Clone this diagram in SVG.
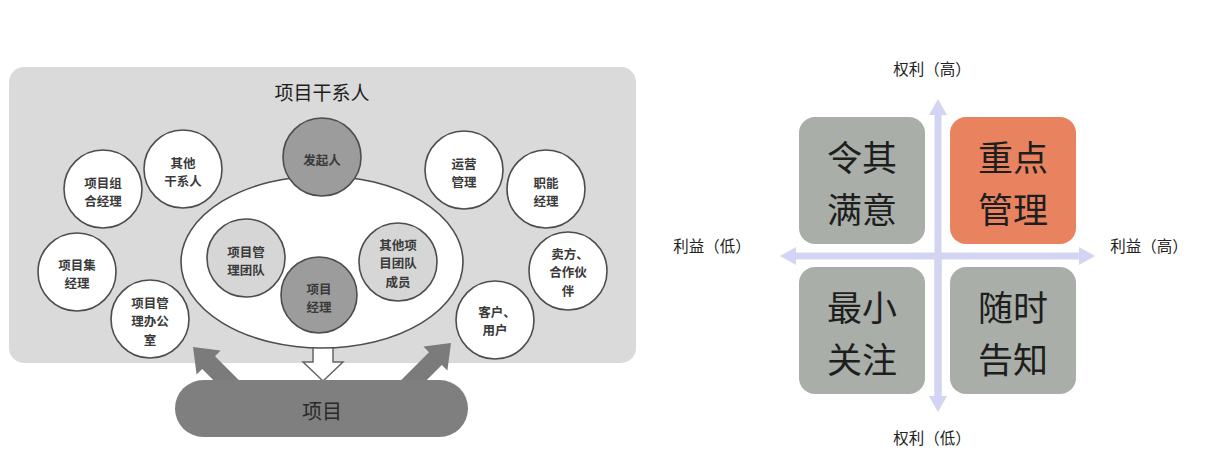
<svg xmlns="http://www.w3.org/2000/svg" width="1208" height="458" viewBox="0 0 1208 458">
<style>
  .cn { font-family: "Noto Sans CJK SC", "Noto Sans", sans-serif; dominant-baseline: central; text-anchor: middle; }
  .ct { font-size: 12.5px; font-weight: 700; fill: #3a3a3a; }
  .node { stroke: #4d4d4d; stroke-width: 1.6; }
  .white { fill: #ffffff; }
  .dark { fill: #9c9c9c; }
  .light { fill: #d6d6d6; }
  .quad { font-size: 35px; fill: #1e1e1e; }
  .axlbl { font-size: 15.5px; fill: #222; }
  .ax { stroke: #d3d4f2; stroke-width: 7; fill: none; }
  .graybox { fill: #a9aea8; }
  .orangebox { fill: #e8825f; }
</style>
<defs>
  <marker id="axhead" markerUnits="userSpaceOnUse" markerWidth="18" markerHeight="18" viewBox="0 0 18 18" refX="2" refY="9" orient="auto">
    <path d="M0,0 L16,9 L0,18 Z" fill="#d3d4f2"/>
  </marker>
</defs>

<rect id="panel" x="9" y="67" width="627" height="296" rx="15" fill="#dadada"/>
<text id="title" class="cn" x="322" y="91" style="font-size:19px;fill:#1e1e1e">项目干系人</text>

<g id="connectors">
  <polygon id="arrow-down" points="313,338 333,338 333,362 343,362 323,381 303,362 313,362" fill="#ffffff" stroke="#666" stroke-width="1.5"/>
  <polygon id="arrow-left" points="193,347 220.6,350.6 215,356.2 253.8,395 228.2,395 202.2,369 196.6,374.6" fill="#7b7b7b"/>
  <polygon id="arrow-right" points="451,343 423.4,346.6 429,352.2 386.2,395 411.8,395 441.8,365 447.4,370.6" fill="#7b7b7b"/>
</g>

<g id="core-ellipse">
  <ellipse cx="322" cy="262" rx="141" ry="86" class="node white"/>
</g>

<g id="sponsor">
  <circle cx="322" cy="157" r="39" class="node dark"/>
  <text class="cn ct" x="322" y="159">发起人</text>
</g>
<g id="project-manager">
  <circle cx="319" cy="295" r="38" class="node dark"/>
  <text class="cn ct" x="319" y="288">项目</text>
  <text class="cn ct" x="319" y="306.5">经理</text>
</g>
<g id="pm-team">
  <circle cx="246" cy="258" r="39" class="node light"/>
  <text class="cn ct" x="246" y="251">项目管</text>
  <text class="cn ct" x="246" y="269.5">理团队</text>
</g>
<g id="other-team">
  <circle cx="398" cy="262" r="39" class="node light"/>
  <text class="cn ct" x="398" y="244">其他项</text>
  <text class="cn ct" x="398" y="262.5">目团队</text>
  <text class="cn ct" x="398" y="281">成员</text>
</g>
<g id="other-stakeholders">
  <circle cx="183" cy="169" r="39" class="node white"/>
  <text class="cn ct" x="183" y="162">其他</text>
  <text class="cn ct" x="183" y="180.5">干系人</text>
</g>
<g id="portfolio-manager">
  <circle cx="103" cy="189" r="39" class="node white"/>
  <text class="cn ct" x="103" y="182">项目组</text>
  <text class="cn ct" x="103" y="200.5">合经理</text>
</g>
<g id="program-manager">
  <circle cx="77" cy="272" r="39" class="node white"/>
  <text class="cn ct" x="77" y="264">项目集</text>
  <text class="cn ct" x="77" y="282.5">经理</text>
</g>
<g id="pmo">
  <circle cx="150" cy="319" r="39" class="node white"/>
  <text class="cn ct" x="150" y="302">项目管</text>
  <text class="cn ct" x="150" y="320.5">理办公</text>
  <text class="cn ct" x="150" y="339">室</text>
</g>
<g id="operations">
  <circle cx="464" cy="170" r="39" class="node white"/>
  <text class="cn ct" x="464" y="163">运营</text>
  <text class="cn ct" x="464" y="181.5">管理</text>
</g>
<g id="functional-manager">
  <circle cx="546" cy="189" r="39" class="node white"/>
  <text class="cn ct" x="546" y="182">职能</text>
  <text class="cn ct" x="546" y="200.5">经理</text>
</g>
<g id="seller">
  <circle cx="568" cy="271" r="39" class="node white"/>
  <text class="cn ct" x="570" y="253">卖方、</text>
  <text class="cn ct" x="568" y="271.5">合作伙</text>
  <text class="cn ct" x="568" y="290">伴</text>
</g>
<g id="customer">
  <circle cx="495" cy="320" r="39" class="node white"/>
  <text class="cn ct" x="497" y="311">客户、</text>
  <text class="cn ct" x="495" y="329.5">用户</text>
</g>

<g id="project">
  <rect x="175" y="380" width="293" height="57" rx="28.5" fill="#7f7f7f"/>
  <text class="cn" x="322" y="410" style="font-size:20px;fill:#2a2a2a">项目</text>
</g>

<!-- Power/interest grid -->
<g id="axes">
  <line class="ax" x1="938" y1="400" x2="938" y2="113" marker-end="url(#axhead)"/>
  <line class="ax" x1="938" y1="256" x2="938" y2="398" marker-end="url(#axhead)"/>
  <line class="ax" x1="938" y1="256" x2="1081" y2="256" marker-end="url(#axhead)"/>
  <line class="ax" x1="938" y1="256" x2="794" y2="256" marker-end="url(#axhead)"/>
</g>
<text id="label-power-high" class="cn axlbl" x="932" y="68">权利（高）</text>
<text id="label-power-low" class="cn axlbl" x="932" y="437">权利（低）</text>
<text id="label-interest-low" class="cn axlbl" x="712" y="245">利益（低）</text>
<text id="label-interest-high" class="cn axlbl" x="1149" y="245">利益（高）</text>

<g id="keep-satisfied">
  <rect x="799" y="117" width="126" height="127" rx="16" class="graybox"/>
  <text class="cn quad" x="862" y="155">令其</text>
  <text class="cn quad" x="862" y="207">满意</text>
</g>
<g id="manage-closely">
  <rect x="950" y="117" width="126" height="127" rx="16" class="orangebox"/>
  <text class="cn quad" x="1013" y="155">重点</text>
  <text class="cn quad" x="1013" y="207">管理</text>
</g>
<g id="monitor">
  <rect x="799" y="267" width="126" height="127" rx="16" class="graybox"/>
  <text class="cn quad" x="862" y="305">最小</text>
  <text class="cn quad" x="862" y="357">关注</text>
</g>
<g id="keep-informed">
  <rect x="950" y="267" width="126" height="127" rx="16" class="graybox"/>
  <text class="cn quad" x="1013" y="305">随时</text>
  <text class="cn quad" x="1013" y="357">告知</text>
</g>
</svg>
